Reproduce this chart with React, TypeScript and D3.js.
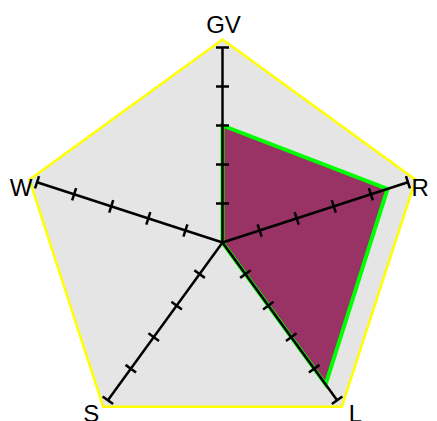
import React from "react";
import * as d3 from "d3";

const axes = ["GV", "R", "L", "S", "W"];
const axisOrder = ["GV", "R", "L", "S", "W"];
const values = [3, 4.45, 4.5, 0, 0];
const tickValues = [1, 2, 3, 4, 5];
const maxValue = 5;

const W = 437;
const H = 421;
const cx = 222.5;
const cy = 242.5;
const axisLen = 195;
const frameR = 203;

export default function App() {
  const r = d3.scaleLinear().domain([0, maxValue]).range([0, axisLen]);
  const angle = d3
    .scaleBand<string>()
    .domain(axisOrder)
    .range([0, 2 * Math.PI]);
  const ang = (k: string) => (angle(k) as number) - Math.PI / 2;
  const pt = (k: string, d: number): [number, number] => [
    cx + Math.cos(ang(k)) * d,
    cy + Math.sin(ang(k)) * d,
  ];

  const frame = d3.line()(axes.map((k) => pt(k, frameR))) + "Z";
  const area =
    d3.line()(axes.map((k, i) => pt(k, r(values[i])))) + "Z";

  return (
    <svg
      width={W}
      height={H}
      style={{ position: "absolute", left: 0, top: 0 }}
      fontFamily="Liberation Sans, Arial, sans-serif"
    >
      <path d={frame} fill="#e5e5e5" stroke="#ffff00" strokeWidth={2.5} strokeLinejoin="miter" />
      <path d={area} fill="#993366" stroke="#00ff00" strokeWidth={4} strokeLinejoin="miter" />
      {axes.map((k) => {
        const a = ang(k);
        const [x2, y2] = pt(k, axisLen);
        const px = -Math.sin(a);
        const py = Math.cos(a);
        return (
          <g key={k}>
            <line x1={cx} y1={cy} x2={x2} y2={y2} stroke="#000" strokeWidth={2.5} />
            {tickValues.map((t) => {
              const [tx, ty] = pt(k, r(t));
              return (
                <line
                  key={t}
                  x1={tx - px * 6.5}
                  y1={ty - py * 6.5}
                  x2={tx + px * 6.5}
                  y2={ty + py * 6.5}
                  stroke="#000"
                  strokeWidth={2.5}
                />
              );
            })}
          </g>
        );
      })}
      {axes.map((k) => {
        const a = ang(k);
        const c = Math.cos(a);
        const s = Math.sin(a);
        const [vx, vy] = pt(k, frameR);
        let anchor = "middle";
        let x = vx;
        let y = vy;
        if (s < -0.9) {
          y = vy - 7;
          x = vx + 1;
        } else if (s < 0) {
          anchor = c > 0 ? "start" : "end";
          x = c > 0 ? vx - 4 : vx + 3;
          y = vy + 16;
        } else {
          anchor = c > 0 ? "start" : "end";
          x = c > 0 ? vx + 7 : vx - 4;
          y = vy + 15;
        }
        return (
          <text key={k} x={x} y={y} textAnchor={anchor} fontSize={24} fill="#000">
            {k}
          </text>
        );
      })}
    </svg>
  );
}
